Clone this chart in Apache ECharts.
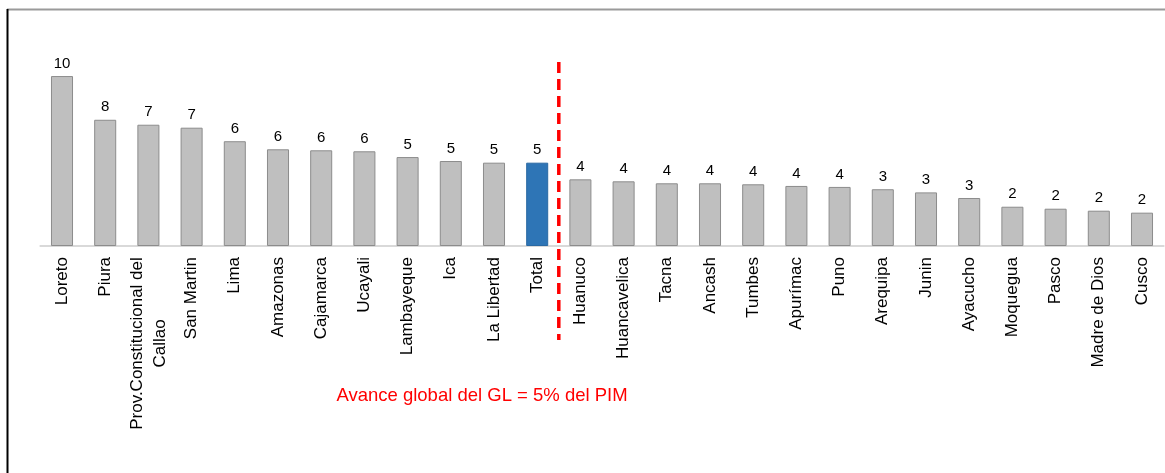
<!DOCTYPE html>
<html>
<head>
<meta charset="utf-8">
<script src="https://cdn.jsdelivr.net/npm/echarts@6/dist/echarts.min.js"></script>
<style>
html,body{margin:0;padding:0;background:#fff;}
#c{width:1165px;height:473px;}
</style>
</head>
<body>
<div id="c"></div>
<script>
const categories = ["Loreto","Piura","Prov.Constitucional del\nCallao","San Martin","Lima","Amazonas","Cajamarca","Ucayali","Lambayeque","Ica","La Libertad","Total","Huanuco","Huancavelica","Tacna","Ancash","Tumbes","Apurímac","Puno","Arequipa","Junin","Ayacucho","Moquegua","Pasco","Madre de Dios","Cusco"];
const values = [10.3,7.65,7.35,7.17,6.35,5.86,5.8,5.74,5.39,5.15,5.05,5.05,4.04,3.92,3.8,3.8,3.74,3.64,3.58,3.44,3.25,2.91,2.38,2.26,2.14,2.02];
const highlightCategory = "Total";
const splitAfter = "Total";
const splitBefore = "Huanuco";
const noteText = "Avance global del GL = 5% del PIM";

const FONT = '"Liberation Sans", Arial, sans-serif';
const AX_SIZE = 17;
const chart = echarts.init(document.getElementById('c'));

// measure widest line for multi-line labels so the lines can be centred among themselves
const ctx = document.createElement('canvas').getContext('2d');
ctx.font = AX_SIZE + 'px ' + FONT;
function fmt(v) {
  if (v.indexOf('\n') < 0) return v;
  const lines = v.split('\n');
  return lines.map(l => '{m|' + l + '}').join('\n');
}
const maxMulti = Math.max(...categories.filter(c => c.indexOf('\n') >= 0)
  .flatMap(c => c.split('\n')).map(l => ctx.measureText(l).width));

const data = values.map((v, i) => ({
  value: v,
  itemStyle: categories[i] === highlightCategory
    ? {color: '#2E75B6', borderColor: '#2A69A3', borderWidth: 1}
    : {color: '#BFBFBF', borderColor: '#8C8C8C', borderWidth: 1}
}));

chart.setOption({
  animation: false,
  backgroundColor: '#fff',
  grid: {left: 40.4, right: 1.4, top: 48, bottom: 227, containLabel: false},
  xAxis: {
    type: 'category',
    data: categories,
    axisLine: {show: true, lineStyle: {color: '#D9D9D9', width: 2}},
    axisTick: {show: false},
    axisLabel: {
      interval: 0, rotate: 90, margin: 11,
      fontFamily: FONT, fontSize: AX_SIZE, color: '#000', lineHeight: 23,
      formatter: fmt,
      rich: {m: {width: Math.ceil(maxMulti), align: 'center', fontFamily: FONT, fontSize: AX_SIZE, color: '#000', lineHeight: 23}}
    }
  },
  yAxis: {type: 'value', min: 0, max: 12, show: false, splitLine: {show: false}},
  series: [{
    type: 'bar',
    data: data,
    barWidth: '51%',
    label: {
      show: true, position: 'top', distance: 5,
      fontFamily: FONT, fontSize: 15, color: '#000',
      formatter: p => Math.round(p.value)
    }
  }]
});

const xA = chart.convertToPixel({xAxisIndex: 0}, categories.indexOf(splitAfter));
const xB = chart.convertToPixel({xAxisIndex: 0}, categories.indexOf(splitBefore));
const xMid = (xA + xB) / 2;

chart.setOption({
  graphic: [
    {type: 'line', shape: {x1: 7, y1: 9.5, x2: 1165, y2: 9.5}, style: {stroke: '#9A9A9A', lineWidth: 2}},
    {type: 'line', shape: {x1: 7.5, y1: 9, x2: 7.5, y2: 473}, style: {stroke: '#000', lineWidth: 2}},
    {type: 'line', shape: {x1: xMid, y1: 62, x2: xMid, y2: 340},
     style: {stroke: '#FF0000', lineWidth: 3.5, lineDash: [11, 6]}},
    {type: 'text', x: 482, y: 396,
     style: {text: noteText, fill: '#FF0000', font: '18.5px ' + FONT, textAlign: 'center', textVerticalAlign: 'middle'}}
  ]
});
</script>
</body>
</html>
